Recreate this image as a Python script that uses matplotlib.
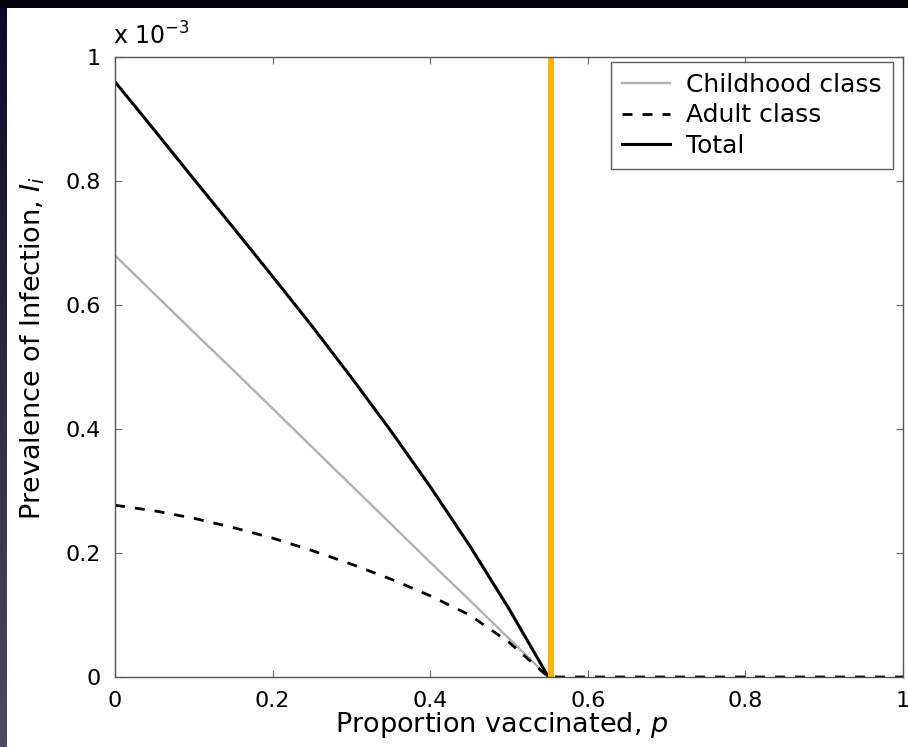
import numpy as np
import matplotlib
matplotlib.use('Agg')
import matplotlib.pyplot as plt
from matplotlib.patches import Rectangle

plt.rcParams['font.family'] = ['DejaVu Sans']
plt.rcParams['mathtext.fontset'] = 'dejavusans'

# Proportion vaccinated and prevalence (units of 1e-3)
p_vals = [0.0, 0.05, 0.1, 0.15, 0.2, 0.25, 0.3, 0.35, 0.4, 0.45, 0.5, 0.55]
childhood = [0.68, 0.618, 0.556, 0.495, 0.433, 0.371, 0.309, 0.247, 0.185, 0.124, 0.062, 0.0]
total = [0.96, 0.882, 0.803, 0.725, 0.646, 0.566, 0.483, 0.397, 0.307, 0.212, 0.110, 0.0]
adult_p = [0.0, 0.05, 0.1, 0.15, 0.2, 0.25, 0.3, 0.35, 0.4, 0.45, 0.5, 0.55, 0.6, 0.8, 1.0]
adult = [0.277, 0.268, 0.256, 0.241, 0.224, 0.204, 0.182, 0.158, 0.131, 0.100, 0.056, 0.0,
         0.0, 0.0, 0.0]
p_critical = 0.553

xticks = [0, 0.2, 0.4, 0.6, 0.8, 1]
xticklabels = ['0', '0.2', '0.4', '0.6', '0.8', '1']
yticks = [0, 0.2, 0.4, 0.6, 0.8, 1]
yticklabels = ['0', '0.2', '0.4', '0.6', '0.8', '1']

W, H = 908, 747
fig = plt.figure(figsize=(W / 100, H / 100), dpi=100)

# dark slide background with a navy gradient on the left edge
bg = fig.add_axes([0, 0, 1, 1], zorder=-10)
grad = np.linspace(0, 1, 256).reshape(-1, 1)
top_col = np.array([0.04, 0.04, 0.16])
bot_col = np.array([0.30, 0.29, 0.38])
img = top_col + grad * (bot_col - top_col)
bg.imshow(img.reshape(256, 1, 3), aspect='auto', extent=[0, 1, 0, 1])
bg.set_xlim(0, 1)
bg.set_ylim(0, 1)
bg.axis('off')
fig.patches.append(Rectangle((0, 1 - 8 / H), 1, 8 / H, transform=fig.transFigure,
                             facecolor='#020208', edgecolor='none', zorder=-5))
fig.patches.append(Rectangle((7 / W, 0), 1, 1 - 8 / H, transform=fig.transFigure,
                             facecolor='white', edgecolor='none', zorder=-5))

ax = fig.add_axes([115 / W, 70 / H, 788 / W, 620 / H])
ax.set_facecolor('white')

l1, = ax.plot(p_vals, childhood, color='#b0b0b0', linewidth=1.7, label='Childhood class')
l2, = ax.plot(adult_p, adult, color='black', linewidth=2.0, linestyle=(0, (3.6, 3.6)),
              label='Adult class')
l3, = ax.plot(p_vals, total, color='black', linewidth=2.2, label='Total')
ax.axvline(p_critical, color='#ffb600', linewidth=4.3)

ax.set_xlim(0, 1)
ax.set_ylim(0, 1)
ax.set_xticks(xticks)
ax.set_xticklabels(xticklabels)
ax.set_yticks(yticks)
ax.set_yticklabels(yticklabels)
ax.tick_params(direction='in', length=5, width=0.8, top=True, right=True,
               labelsize=16, color='#666666')
ax.tick_params(axis='x', pad=10)
ax.tick_params(axis='y', pad=10)
for s in ax.spines.values():
    s.set_color('#555555')
    s.set_linewidth(1.0)

ax.set_xlabel('Proportion vaccinated, $p$', fontsize=19.5)
ax.xaxis.label.set_verticalalignment('center')
ax.xaxis.set_label_coords(0.491, -0.078)
ax.set_ylabel('Prevalence of Infection, $I_i$', fontsize=19.5)
ax.yaxis.label.set_verticalalignment('center')
ax.yaxis.label.set_horizontalalignment('center')
ax.yaxis.set_label_coords(-0.105, 0.53)
ax.text(-0.003, 1.012, r'x 10$^{-3}$', transform=ax.transAxes, fontsize=17,
        ha='left', va='bottom')

leg = ax.legend(handles=[l1, l2, l3], loc='upper right',
                bbox_to_anchor=(0.9873, 0.992), fontsize=18,
                frameon=True, fancybox=False, edgecolor='#333333',
                handlelength=1.9, handletextpad=0.65, borderpad=0.45,
                labelspacing=0.25, borderaxespad=0.0)
leg.get_frame().set_linewidth(1.0)

fig.savefig('out.png', dpi=100)
